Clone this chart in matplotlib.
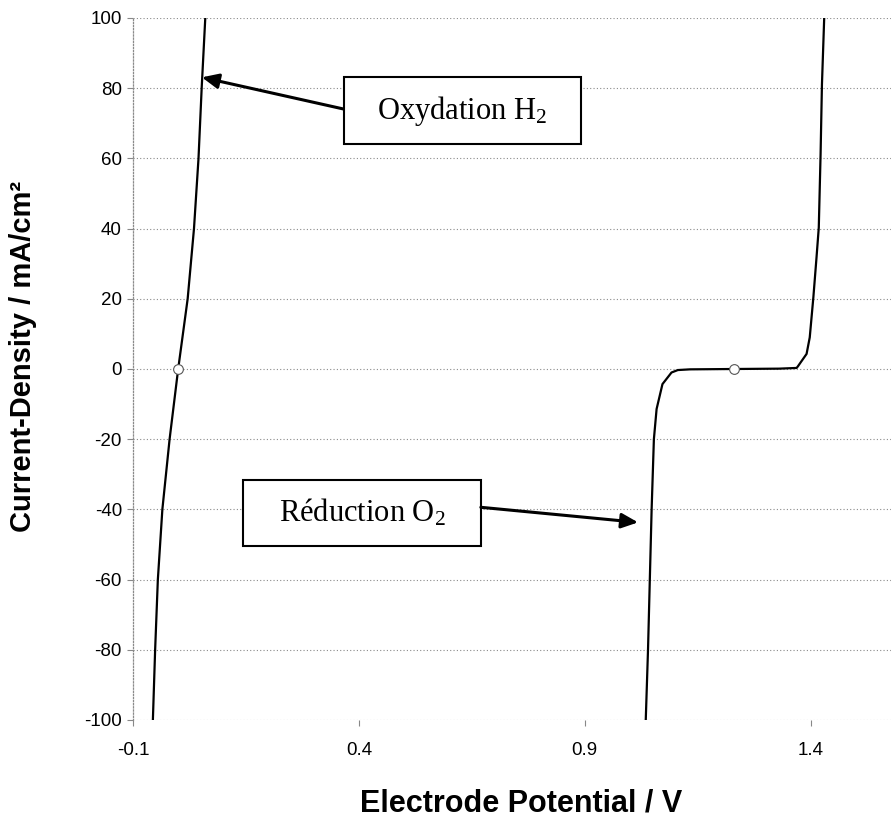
import matplotlib
matplotlib.use("Agg")
import matplotlib.pyplot as plt
from matplotlib.patches import Rectangle

plt.rcParams['mathtext.fontset'] = 'custom'
plt.rcParams['mathtext.rm'] = 'Liberation Serif'
plt.rcParams['mathtext.it'] = 'Liberation Serif:italic'
plt.rcParams['font.family'] = ['Liberation Sans', 'DejaVu Sans']
plt.rcParams['axes.unicode_minus'] = False

# ---- data ----
h2_potential = [-0.056, -0.051, -0.045, -0.035, -0.019, 0.0, 0.021, 0.035, 0.045, 0.052, 0.060]
h2_current = [-100, -80, -60, -40, -20, 0, 20, 40, 60, 80, 100]

o2_potential = [1.035, 1.040, 1.044, 1.048, 1.053, 1.059, 1.072, 1.092, 1.106, 1.133,
                1.23, 1.33, 1.369, 1.372, 1.391, 1.398, 1.406, 1.413, 1.418, 1.422, 1.425, 1.430]
o2_current = [-100, -80, -60, -40, -20, -11.4, -4.3, -1.0, -0.3, -0.1,
              0, 0.1, 0.3, 0.8, 4.3, 9, 20.4, 31.8, 40.3, 61.2, 81, 100]

eq_potential = [0.0, 1.23]
eq_current = [0, 0]

x_ticks = [-0.1, 0.4, 0.9, 1.4]
x_ticklabels = ['-0.1', '0.4', '0.9', '1.4']
y_ticks = [-100, -80, -60, -40, -20, 0, 20, 40, 60, 80, 100]

fig = plt.figure(figsize=(8.91, 8.25), dpi=100)
W, H = 891, 825
ax = fig.add_axes([133 / W, 1 - 720 / H, (901 - 133) / W, (720 - 18) / H])
ax.set_xlim(-0.1, 1.6)
ax.set_ylim(-100, 100)

for yv in y_ticks:
    ax.axhline(yv, color='#8a8a8a', lw=0.8, ls=(0, (1, 2)), zorder=1)

ax.plot(h2_potential, h2_current, color='black', lw=1.6, zorder=3)
ax.plot(o2_potential, o2_current, color='black', lw=1.6, zorder=3)
ax.plot(eq_potential, eq_current, ls='none', marker='o', ms=7, mfc='white',
        mec='#555555', mew=0.8, zorder=4)

for s in ['top', 'right', 'bottom']:
    ax.spines[s].set_visible(False)
ax.spines['left'].set_color('#8a8a8a')
ax.spines['left'].set_linestyle((0, (1, 1.5)))
ax.spines['left'].set_linewidth(0.9)

ax.set_xticks(x_ticks)
ax.set_xticklabels(x_ticklabels)
ax.set_yticks(y_ticks)
ax.tick_params(axis='both', labelsize=13.5, colors='#888888', labelcolor='black',
               length=4, width=0.8)
ax.tick_params(axis='x', pad=12)
ax.tick_params(axis='y', pad=4)

ax.set_ylabel('Current-Density / mA/cm²', fontsize=21, fontweight='bold')
ax.set_xlabel('Electrode Potential / V', fontsize=22, fontweight='bold')
ax.yaxis.set_label_coords(-0.125, 0.5185)
ax.xaxis.set_label_coords(0.505, -0.098)

# annotation boxes
ax.add_patch(Rectangle((0.367, 64.1), 0.892 - 0.367, 83.2 - 64.1, fill=True,
                       facecolor='white', edgecolor='black', lw=1.5, zorder=5))
ax.text((0.367 + 0.892) / 2, 73.6, 'Oxydation H$_2$', family='Liberation Serif',
        fontsize=22, ha='center', va='center', zorder=6)
ax.annotate('', xy=(0.0524, 83.1), xytext=(0.365, 74.1),
            arrowprops=dict(arrowstyle='-|>,head_length=1.0,head_width=0.45',
                            color='black', lw=2.2, shrinkA=0, shrinkB=0), zorder=6)

ax.add_patch(Rectangle((0.1445, -50.5), 0.670 - 0.1445, 19.0, fill=True,
                       facecolor='white', edgecolor='black', lw=1.5, zorder=5))
ax.text((0.1445 + 0.670) / 2, -41.0, 'Réduction O$_2$', family='Liberation Serif',
        fontsize=22, ha='center', va='center', zorder=6)
ax.annotate('', xy=(1.018, -43.7), xytext=(0.670, -39.4),
            arrowprops=dict(arrowstyle='-|>,head_length=1.0,head_width=0.45',
                            color='black', lw=2.2, shrinkA=0, shrinkB=0), zorder=6)

fig.savefig('out.png', dpi=100)
